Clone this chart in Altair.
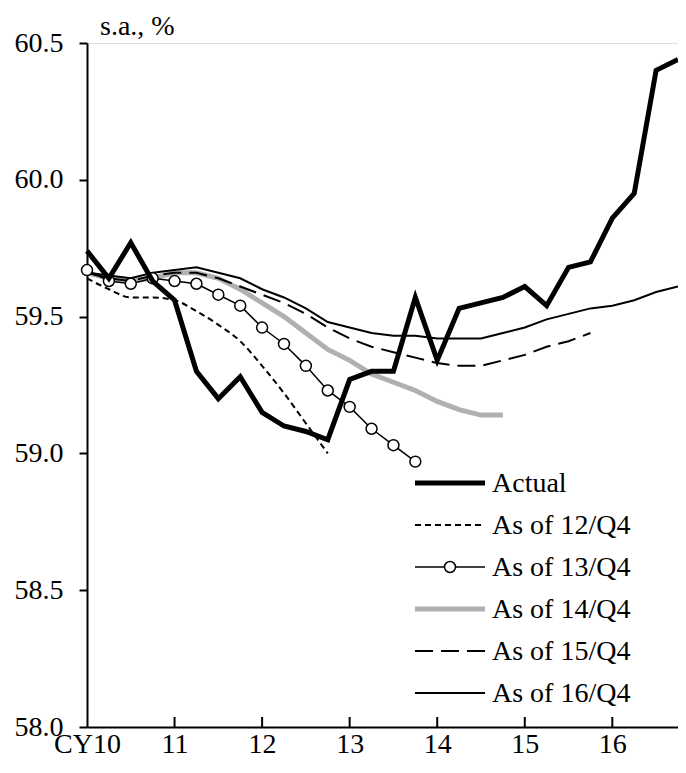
import altair as alt
import pandas as pd

# ---- data (quarter index 0 = CY2010 Q1) ----
actual = [59.74, 59.64, 59.77, 59.63, 59.56, 59.30, 59.20, 59.28, 59.15, 59.10,
          59.08, 59.05, 59.27, 59.30, 59.30, 59.57, 59.34, 59.53, 59.55, 59.57,
          59.61, 59.54, 59.68, 59.70, 59.86, 59.95, 60.40, 60.44]
as_of_12q4 = [59.64, 59.60, 59.57, 59.57, 59.56, 59.52, 59.47, 59.41, 59.32, 59.22,
              59.11, 59.00]
as_of_13q4 = [59.67, 59.63, 59.62, 59.64, 59.63, 59.62, 59.58, 59.54, 59.46, 59.40,
              59.32, 59.23, 59.17, 59.09, 59.03, 58.97]
as_of_14q4 = [59.66, 59.64, 59.63, 59.64, 59.66, 59.66, 59.64, 59.60, 59.55, 59.50,
              59.44, 59.38, 59.34, 59.29, 59.26, 59.23, 59.19, 59.16, 59.14, 59.14]
as_of_15q4 = [59.66, 59.64, 59.63, 59.65, 59.66, 59.66, 59.64, 59.61, 59.58, 59.55,
              59.51, 59.46, 59.42, 59.39, 59.37, 59.35, 59.33, 59.32, 59.32, 59.34,
              59.36, 59.39, 59.41, 59.44]
as_of_16q4 = [59.66, 59.65, 59.64, 59.66, 59.67, 59.68, 59.66, 59.64, 59.60, 59.57,
              59.53, 59.48, 59.46, 59.44, 59.43, 59.43, 59.42, 59.42, 59.42, 59.44,
              59.46, 59.49, 59.51, 59.53, 59.54, 59.56, 59.59, 59.61]

year_labels = ["CY10", "11", "12", "13", "14", "15", "16"]
year_ticks = [0, 4, 8, 12, 16, 20, 24]
y_ticks = [58.0, 58.5, 59.0, 59.5, 60.0, 60.5]
series_names = ["Actual", "As of 12/Q4", "As of 13/Q4", "As of 14/Q4",
                "As of 15/Q4", "As of 16/Q4"]
unit_label = "s.a., %"

FONT = "Liberation Serif"
FS = 28
W, H = 591, 684

x_scale = alt.Scale(domain=[0, 27], nice=False, zero=False)
y_scale = alt.Scale(domain=[58.0, 60.5], nice=False, zero=False)


def frame(vals, name):
    return pd.DataFrame({"q": list(range(len(vals))), "v": vals, "s": name})


label_js = "[" + ",".join("'%s'" % l for l in year_labels) + "][round(datum.value/4)]"

x_enc = alt.X("q:Q", scale=x_scale,
              axis=alt.Axis(values=year_ticks, labelExpr=label_js, tickSize=0,
                            domainColor="black", domainWidth=2, grid=False,
                            labelFont=FONT, labelFontSize=FS, labelColor="black",
                            labelBaseline="alphabetic", labelPadding=25,
                            labelFlush=False, labelOverlap=False, title=None))
y_enc = alt.Y("v:Q", scale=y_scale,
              axis=alt.Axis(values=y_ticks, format=".1f", tickSize=8, tickWidth=2,
                            tickColor="black", domainColor="black", domainWidth=2,
                            grid=False, labelFont=FONT, labelFontSize=FS,
                            labelColor="black", labelPadding=16, title=None))


def line(vals, name, **kw):
    return alt.Chart(frame(vals, name)).mark_line(**kw).encode(x=x_enc, y=y_enc)


l14 = line(as_of_14q4, series_names[3], color="#b0b0b0", strokeWidth=5)
l16 = line(as_of_16q4, series_names[5], color="black", strokeWidth=2)
l15 = line(as_of_15q4, series_names[4], color="black", strokeWidth=2,
           strokeDash=[18, 8])
l12 = line(as_of_12q4, series_names[1], color="black", strokeWidth=2,
           strokeDash=[6, 4], interpolate="monotone")
l13 = alt.Chart(frame(as_of_13q4, series_names[2])).mark_line(
    color="black", strokeWidth=1.5,
    point=alt.OverlayMarkDef(filled=True, fill="white", stroke="black",
                             strokeWidth=1.5, size=120, opacity=1)
).encode(x=x_enc, y=y_enc)
lact = line(actual, series_names[0], color="black", strokeWidth=5)

# inward x ticks
tick_df = pd.DataFrame({"q": year_ticks[1:]})
xticks = alt.Chart(tick_df).mark_rule(color="black", strokeWidth=2).encode(
    x=x_enc, y=alt.value(H), y2=alt.value(H - 10))

# unit label
unit = alt.Chart(pd.DataFrame({"t": [unit_label]})).mark_text(
    font=FONT, fontSize=FS, align="left", baseline="alphabetic", color="black"
).encode(text="t:N", x=alt.value(13), y=alt.value(-8))

# manual legend
LX0, LX1, LT, LY0, LDY = 328, 398, 405, 440, 42
styles = [
    dict(color="black", strokeWidth=5),
    dict(color="black", strokeWidth=2, strokeDash=[6, 4]),
    dict(color="black", strokeWidth=1.5),
    dict(color="#b0b0b0", strokeWidth=5),
    dict(color="black", strokeWidth=2, strokeDash=[18, 8]),
    dict(color="black", strokeWidth=2),
]
legend_layers = []
for k, (name, st) in enumerate(zip(series_names, styles)):
    yy = LY0 + LDY * k
    legend_layers.append(
        alt.Chart(pd.DataFrame({"s": [name]})).mark_rule(**st).encode(
            x=alt.value(LX0), x2=alt.value(LX1), y=alt.value(yy)))
    legend_layers.append(
        alt.Chart(pd.DataFrame({"s": [name]})).mark_text(
            font=FONT, fontSize=FS, align="left", baseline="middle",
            color="black", dy=1).encode(
            text="s:N", x=alt.value(LT), y=alt.value(yy)))
legend_layers.append(
    alt.Chart(pd.DataFrame({"s": [series_names[2]]})).mark_point(
        filled=True, fill="white", stroke="black", strokeWidth=1.5, size=120,
        opacity=1).encode(x=alt.value((LX0 + LX1) / 2), y=alt.value(LY0 + LDY * 2)))

chart = alt.layer(l14, l16, l15, l12, l13, lact, xticks, unit, *legend_layers).properties(
    width=W, height=H,
    autosize=alt.AutoSizeParams(type="none"),
    padding={"left": 79, "top": 35, "right": 0, "bottom": 33},
).configure_view(stroke="black", strokeWidth=2).configure(background="white")

chart.save("out.html", embed_options={"renderer": "svg", "actions": False})
